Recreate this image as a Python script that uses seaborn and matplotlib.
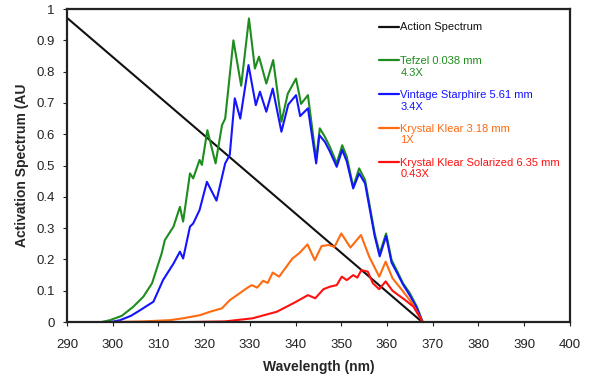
import pandas as pd
import numpy as np
import matplotlib
matplotlib.use('Agg')
import matplotlib.pyplot as plt
import seaborn as sns

# values (wavelength in nm, activation in AU)
action_wl = [290, 367.7]
action_val = [0.972, 0.0]

tefzel_wl = [290, 297.5, 299.4, 302.0, 304.5, 306.7, 308.6, 310.7, 311.4, 313.3, 314.7, 315.4,
             316.9, 317.6, 319.0, 319.5, 320.7, 322.5, 323.9, 324.6, 326.4, 328.1, 329.8,
             331.1, 332.0, 333.6, 335.1, 336.9, 338.3, 340.1, 341.2, 342.7, 344.5, 345.3,
             346.4, 347.5, 349.0, 350.2, 351.2, 352.6, 353.9, 355.2, 357.3, 358.4, 359.8,
             361.0, 362.1, 363.5, 365.0, 366.5, 367.8, 400]
tefzel_val = [0, 0, 0.006, 0.02, 0.049, 0.081, 0.124, 0.219, 0.262, 0.305, 0.368, 0.321,
              0.475, 0.459, 0.518, 0.502, 0.613, 0.507, 0.629, 0.65, 0.9, 0.755, 0.97,
              0.81, 0.848, 0.762, 0.837, 0.64, 0.73, 0.778, 0.697, 0.725, 0.52, 0.619,
              0.592, 0.56, 0.507, 0.565, 0.528, 0.432, 0.491, 0.454, 0.283, 0.219, 0.283,
              0.198, 0.166, 0.124, 0.092, 0.05, 0, 0]

starphire_wl = [290, 299.5, 301.6, 304.0, 306.0, 308.9, 311.0, 313.3, 314.7, 315.4, 316.9,
                317.6, 319.0, 320.6, 322.7, 324.6, 325.6, 326.7, 327.9, 329.7, 331.3, 332.2,
                333.6, 335.0, 336.9, 338.4, 340.1, 341.0, 342.7, 344.5, 345.2, 346.4, 347.5,
                349.0, 350.2, 351.2, 352.6, 353.9, 355.2, 357.3, 358.4, 359.8, 361.0, 362.1,
                363.5, 365.0, 366.5, 367.8, 400]
starphire_val = [0, 0, 0.006, 0.02, 0.038, 0.065, 0.134, 0.187, 0.225, 0.203, 0.305,
                 0.315, 0.358, 0.448, 0.388, 0.507, 0.534, 0.715, 0.65, 0.821, 0.693, 0.736,
                 0.672, 0.746, 0.608, 0.695, 0.725, 0.658, 0.683, 0.507, 0.597, 0.576, 0.545,
                 0.496, 0.55, 0.513, 0.427, 0.475, 0.443, 0.275, 0.21, 0.275, 0.19, 0.16,
                 0.12, 0.085, 0.045, 0, 0]

klear_wl = [290, 300.0, 306.5, 312.5, 315.4, 319.1, 321.3, 323.9, 325.6, 326.7, 329.3, 330.4,
            331.6, 332.9, 333.9, 335.0, 336.4, 339.3, 340.8, 342.6, 344.2, 345.7, 347.3,
            348.5, 350.0, 352.0, 354.3, 356.1, 358.3, 359.7, 361.2, 363.3, 365.5, 367.8, 400]
klear_val = [0, 0, 0.002, 0.006, 0.012, 0.022, 0.033, 0.044, 0.07, 0.081, 0.108, 0.118,
             0.11, 0.132, 0.125, 0.158, 0.145, 0.203, 0.22, 0.248, 0.198, 0.243, 0.246,
             0.24, 0.283, 0.238, 0.278, 0.209, 0.145, 0.193, 0.14, 0.102, 0.06, 0, 0]

solarized_wl = [290, 316.0, 324.5, 330.6, 335.9, 339.5, 342.7, 344.3, 346.1, 347.5, 349.0,
                350.1, 351.2, 352.6, 353.5, 354.4, 355.8, 356.9, 358.3, 359.7, 361.2, 364.0,
                365.8, 367.8, 400]
solarized_val = [0, 0, 0.002, 0.012, 0.033, 0.06, 0.086, 0.076, 0.105, 0.113, 0.118,
                 0.145, 0.134, 0.15, 0.142, 0.166, 0.161, 0.124, 0.105, 0.13, 0.1, 0.07,
                 0.049, 0, 0]

labels = ['Action Spectrum\n',
          'Tefzel 0.038 mm\n4.3X',
          'Vintage Starphire 5.61 mm\n3.4X',
          'Krystal Klear 3.18 mm\n1X',
          'Krystal Klear Solarized 6.35 mm\n0.43X']
colors = ['#111111', '#1e8c1e', '#1414ff', '#ff6a10', '#ff1010']

frames = []
for lab, wl, val in zip(labels,
                        [action_wl, tefzel_wl, starphire_wl, klear_wl, solarized_wl],
                        [action_val, tefzel_val, starphire_val, klear_val, solarized_val]):
    frames.append(pd.DataFrame({'wl': wl, 'val': val, 'series': lab}))
df = pd.concat(frames, ignore_index=True)

sns.set_style('white')
plt.rcParams['font.family'] = ['Liberation Sans', 'DejaVu Sans']

fig = plt.figure(figsize=(5.93, 3.78), dpi=100)
ax = fig.add_axes([0.113, 0.148, 0.848, 0.828])

sns.lineplot(data=df, x='wl', y='val', hue='series', palette=dict(zip(labels, colors)),
             hue_order=labels, estimator=None, sort=False, linewidth=1.5, legend=False, ax=ax)

ax.set_xlim(290, 400)
ax.set_ylim(0, 1)
ax.set_xticks(np.arange(290, 401, 10))
ax.set_yticks(np.arange(0, 1.01, 0.1))
ax.set_yticklabels(['0'] + ['%.1f' % v for v in np.arange(0.1, 0.95, 0.1)] + ['1'])
ax.tick_params(axis='both', labelsize=9.5, direction='out', length=3, width=0.8,
               colors='#222222', left=True, bottom=True)
ax.tick_params(axis='x', pad=9)
ax.tick_params(axis='y', pad=6)
for s in ax.spines.values():
    s.set_color('#222222')
    s.set_linewidth(1.6)

ax.set_xlabel('Wavelength (nm)', fontsize=10, fontweight='bold', labelpad=7)
ax.set_ylabel('Activation Spectrum (AU', fontsize=10, fontweight='bold')
ax.yaxis.set_label_coords(-0.076, 0.5)

leg = ax.legend(ax.get_lines(), labels, loc='upper left', bbox_to_anchor=(0.611, 0.972),
                frameon=False, fontsize=8, labelcolor='linecolor', handlelength=1.8,
                handletextpad=0.15, labelspacing=1.1, borderaxespad=0)
for ln in leg.get_lines():
    ln.set_ydata(np.asarray(ln.get_ydata()) + 4.8)
    ln.set_linewidth(1.6)

fig.savefig('out.png', dpi=100)
